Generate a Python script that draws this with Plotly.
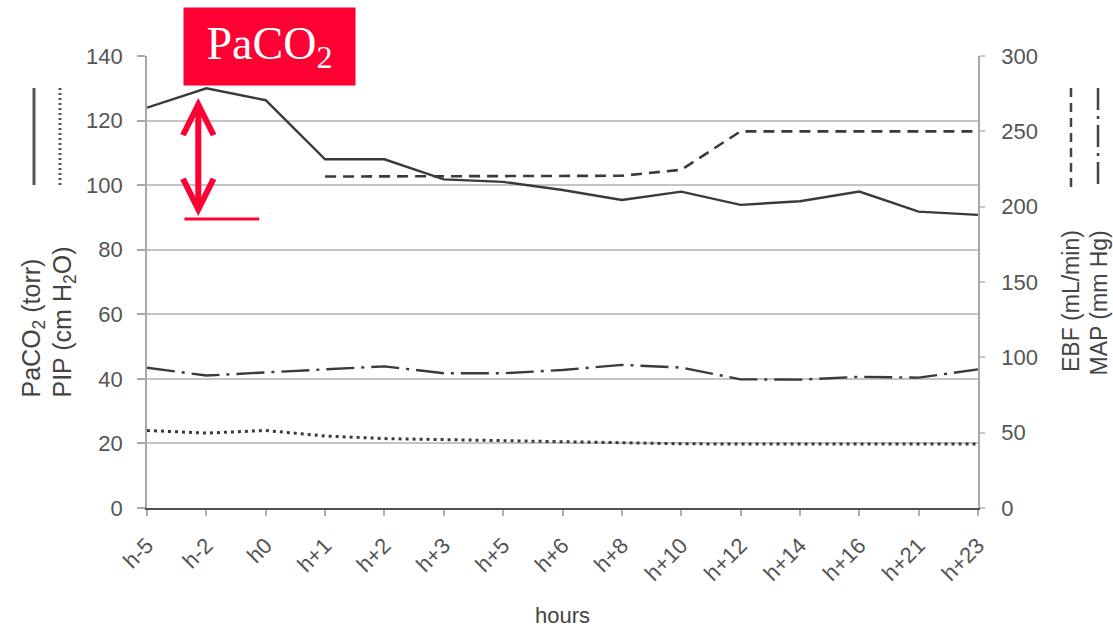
import plotly.graph_objects as go

# ---------------- data ----------------
hours = ["h-5", "h-2", "h0", "h+1", "h+2", "h+3", "h+5", "h+6", "h+8",
         "h+10", "h+12", "h+14", "h+16", "h+21", "h+23"]
paco2 = [124, 130, 126.3, 108, 108, 101.8, 101, 98.5, 95.4, 98, 93.9, 95, 98, 91.8, 90.8]
pip = [24, 23.2, 24, 22.3, 21.5, 21.2, 20.7, 20.4, 20.2, 19.9, 19.8, 19.8, 19.8, 19.8, 19.8]
ebf = [None, None, None, 220, 220, 220, 220, 220, 220.5, 224.5, 250, 250, 250, 250, 250]
map_mmhg = [93.1, 87.9, 90.0, 92.0, 94.0, 89.4, 89.4, 91.6, 95.0, 93.2, 85.4, 85.2, 87.1, 86.5, 92.0]

left_ticks = [0, 20, 40, 60, 80, 100, 120, 140]
right_ticks = [0, 50, 100, 150, 200, 250, 300]

# ---------------- layout geometry ----------------
W, H = 1113, 628
L, R, T, B = 147, 978, 56, 508


def px(x):
    return (x - L) / (R - L)


def py(y):
    return (B - y) / (B - T)


xi = list(range(len(hours)))
LINE = "#3a3a3a"
RED = "#ff0033"

fig = go.Figure()
fig.add_trace(go.Scatter(x=xi, y=paco2, mode="lines", name="PaCO2",
                         line=dict(color=LINE, width=2.4)))
fig.add_trace(go.Scatter(x=xi, y=pip, mode="lines", name="PIP",
                         line=dict(color=LINE, width=3, dash="3px,4px")))
fig.add_trace(go.Scatter(x=xi, y=ebf, mode="lines", name="EBF", yaxis="y2",
                         line=dict(color=LINE, width=2.6, dash="11px,7px")))
fig.add_trace(go.Scatter(x=xi, y=map_mmhg, mode="lines", name="MAP", yaxis="y2",
                         line=dict(color=LINE, width=2.4, dash="28px,7px,3px,7px")))

FAM = "Liberation Sans, Arial, sans-serif"
tickfont = dict(family=FAM, size=22, color="#555555")
titlefont = dict(family=FAM, size=25, color="#444444")
titlefont_r = dict(family=FAM, size=23, color="#444444")

fig.update_layout(
    width=W, height=H,
    margin=dict(l=L, r=W - R, t=T, b=H - B),
    paper_bgcolor="white", plot_bgcolor="white",
    showlegend=False,
    xaxis=dict(range=[0, len(hours) - 1], tickvals=xi, ticktext=hours,
               tickangle=-45, tickfont=tickfont, showgrid=False, zeroline=False,
               showline=True, linecolor="#505050", linewidth=2,
               ticks="outside", ticklen=6, tickcolor="#b0b0b0", tickwidth=1.5,
               ticklabelstandoff=8),
    yaxis=dict(range=[0, 140], tickvals=left_ticks, tickfont=tickfont,
               showgrid=True, gridcolor="#c4c4c4", gridwidth=1.8, zeroline=False,
               showline=True, linecolor="#a8a8a8", linewidth=1.8,
               ticks="outside", ticklen=8, tickcolor="#a8a8a8", tickwidth=1.5,
               ticklabelstandoff=10),
    yaxis2=dict(range=[0, 300], tickvals=right_ticks, tickfont=tickfont,
                overlaying="y", side="right", showgrid=False, zeroline=False,
                showline=True, linecolor="#a8a8a8", linewidth=1.8,
                ticks="outside", ticklen=5, tickcolor="#c8c8c8", tickwidth=1.5,
                ticklabelstandoff=12),
)

ann = []
# axis titles
ann.append(dict(text="PaCO<sub>2</sub> (torr)", xref="paper", yref="paper",
                x=px(32), y=py(400), textangle=-90, showarrow=False, font=titlefont,
                xanchor="center", yanchor="bottom"))
ann.append(dict(text="PIP (cm H<sub>2</sub>O)", xref="paper", yref="paper",
                x=px(63), y=py(400), textangle=-90, showarrow=False, font=titlefont,
                xanchor="center", yanchor="bottom"))
ann.append(dict(text="EBF (mL/min)", xref="paper", yref="paper",
                x=px(1071), y=py(374), textangle=-90, showarrow=False, font=titlefont_r,
                xanchor="center", yanchor="bottom"))
ann.append(dict(text="MAP (mm Hg)", xref="paper", yref="paper",
                x=px(1098), y=py(378), textangle=-90, showarrow=False, font=titlefont_r,
                xanchor="center", yanchor="bottom"))
ann.append(dict(text="hours", xref="paper", yref="paper",
                x=px(562), y=py(615), showarrow=False,
                font=dict(family=FAM, size=22, color="#444444"),
                xanchor="center", yanchor="middle"))
# red label box
ann.append(dict(text="PaCO<sub>2</sub>", xref="paper", yref="paper",
                x=px(269.5), y=py(46.5), xanchor="center", yanchor="middle",
                showarrow=False, bgcolor=RED, width=171, height=77, borderpad=0,
                font=dict(family="Liberation Serif, Times New Roman, serif", size=46, color="white")))
# red double arrow
ann.append(dict(text="", x=0.864, y=127.0, xref="x", yref="y",
                ax=0.864, ay=90.0, axref="x", ayref="y",
                showarrow=True, arrowside="end+start", arrowhead=5, startarrowhead=5,
                arrowsize=1.0, startarrowsize=1.0, arrowwidth=6, arrowcolor=RED))
fig.update_layout(annotations=ann)

shapes = []
# red baseline
shapes.append(dict(type="line", xref="x", yref="y", x0=0.63, x1=1.89, y0=89.5, y1=89.5,
                   line=dict(color=RED, width=3)))
# legend key samples
shapes.append(dict(type="line", xref="paper", yref="paper", x0=px(34), x1=px(34),
                   y0=py(88), y1=py(185), line=dict(color="#555555", width=3)))
shapes.append(dict(type="line", xref="paper", yref="paper", x0=px(60), x1=px(60),
                   y0=py(88), y1=py(185), line=dict(color="#555555", width=3, dash="2px,3px")))
shapes.append(dict(type="line", xref="paper", yref="paper", x0=px(1071), x1=px(1071),
                   y0=py(88), y1=py(188), line=dict(color="#444444", width=2.5, dash="9px,6px")))
shapes.append(dict(type="line", xref="paper", yref="paper", x0=px(1098), x1=px(1098),
                   y0=py(88), y1=py(188), line=dict(color="#444444", width=2.5, dash="22px,6px,3px,6px")))
fig.update_layout(shapes=shapes)

fig.write_html("out.html")
